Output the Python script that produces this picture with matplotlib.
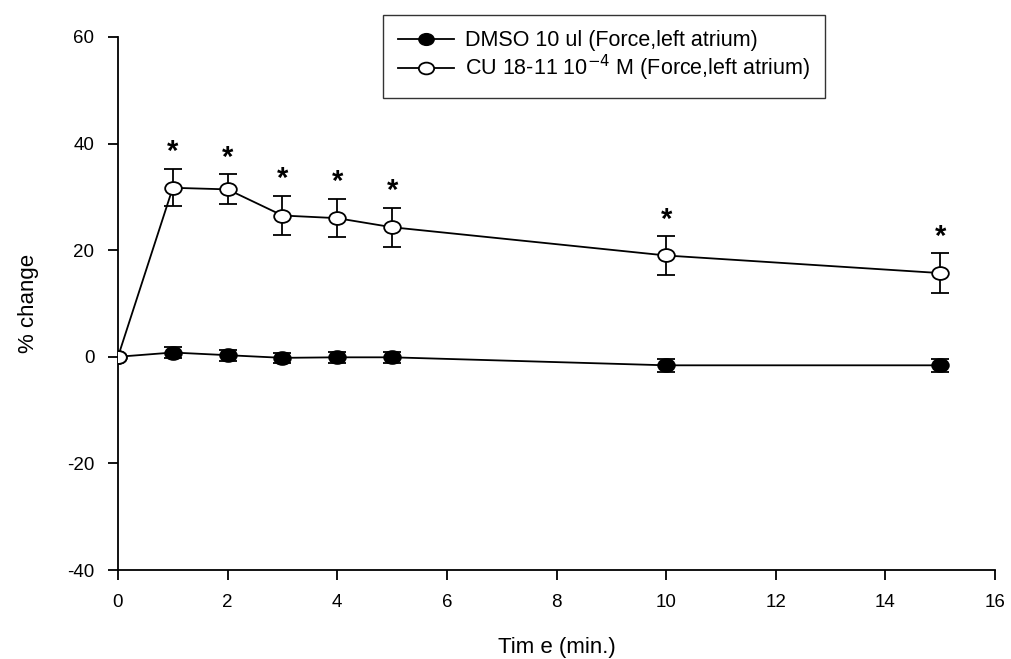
import numpy as np
import matplotlib
matplotlib.use("Agg")
import matplotlib.pyplot as plt
from matplotlib.path import Path
from matplotlib.transforms import Affine2D
from matplotlib.lines import Line2D

plt.rcParams['font.family'] = ['Liberation Sans', 'DejaVu Sans']
plt.rcParams['axes.unicode_minus'] = False

# Time points (min)
time = [0, 1, 2, 3, 4, 5, 10, 15]

# DMSO vehicle control
dmso_mean = [0.0, 0.8, 0.3, -0.2, -0.1, -0.1, -1.6, -1.6]
dmso_sem = [0.0, 1.1, 1.0, 1.0, 1.0, 1.0, 1.2, 1.2]

# CU 18-11 treatment
cu_mean = [0.0, 31.7, 31.4, 26.5, 26.0, 24.3, 19.0, 15.7]
cu_sem = [0.0, 3.5, 2.8, 3.7, 3.6, 3.7, 3.6, 3.7]

# Points marked significant
sig_index = [1, 2, 3, 4, 5, 6, 7]

x_ticks = [0, 2, 4, 6, 8, 10, 12, 14, 16]
y_ticks = [-40, -20, 0, 20, 40, 60]

dmso_label = 'DMSO 10 ul (Force,left atrium)'
cu_label = 'CU 18-11 10$^{-4}$ M (Force,left atrium)'

# slightly flattened circle marker
ellipse = Path.unit_circle().transformed(Affine2D().scale(1.0, 0.77))

fig = plt.figure(figsize=(10.11, 6.59), dpi=100)
ax = fig.add_axes([0.1167, 0.135, 0.8675, 0.809])

common = dict(color='black', lw=1.3, marker=ellipse, markersize=12,
              markeredgecolor='black', markeredgewidth=1.3,
              capsize=6.8, capthick=1.3, elinewidth=1.3)
ax.errorbar(time, dmso_mean, yerr=dmso_sem, markerfacecolor='black',
            zorder=3, **common)
ax.errorbar(time, cu_mean, yerr=cu_sem, markerfacecolor='white',
            zorder=4, **common)

for i in sig_index:
    ax.annotate('*', xy=(time[i], cu_mean[i] + cu_sem[i]),
                xytext=(0, 2), textcoords='offset points',
                ha='center', va='bottom', fontsize=21, fontweight='bold')

ax.set_xlim(0, 16)
ax.set_ylim(-40, 60)
ax.set_xticks(x_ticks)
ax.set_yticks(y_ticks)
ax.spines['top'].set_visible(False)
ax.spines['right'].set_visible(False)
for s in ('left', 'bottom'):
    ax.spines[s].set_linewidth(1.3)
ax.tick_params(direction='out', length=7, width=1.3, labelsize=13.5)
ax.tick_params(axis='y', pad=10)
ax.tick_params(axis='x', pad=10)

ax.set_xlabel('Tim e (min.)', fontsize=16, labelpad=19)
ax.set_ylabel('% change', fontsize=16, labelpad=20)

handles = [
    Line2D([], [], color='black', lw=1.3, marker=ellipse, markersize=11,
           markerfacecolor='black', markeredgecolor='black'),
    Line2D([], [], color='black', lw=1.3, marker=ellipse, markersize=11,
           markerfacecolor='white', markeredgecolor='black',
           markeredgewidth=1.3),
]
leg = ax.legend(handles, [dmso_label, cu_label], loc='upper left',
                bbox_to_anchor=(383 / 1011, 1 - 15 / 659),
                bbox_transform=fig.transFigure, borderaxespad=0,
                frameon=True, fancybox=False, edgecolor='black',
                fontsize=15.5, handlelength=2.6, handletextpad=0.5,
                borderpad=0.7, labelspacing=0.1)
leg.get_frame().set_linewidth(1.0)

fig.savefig('out.png', dpi=100, facecolor='white')
